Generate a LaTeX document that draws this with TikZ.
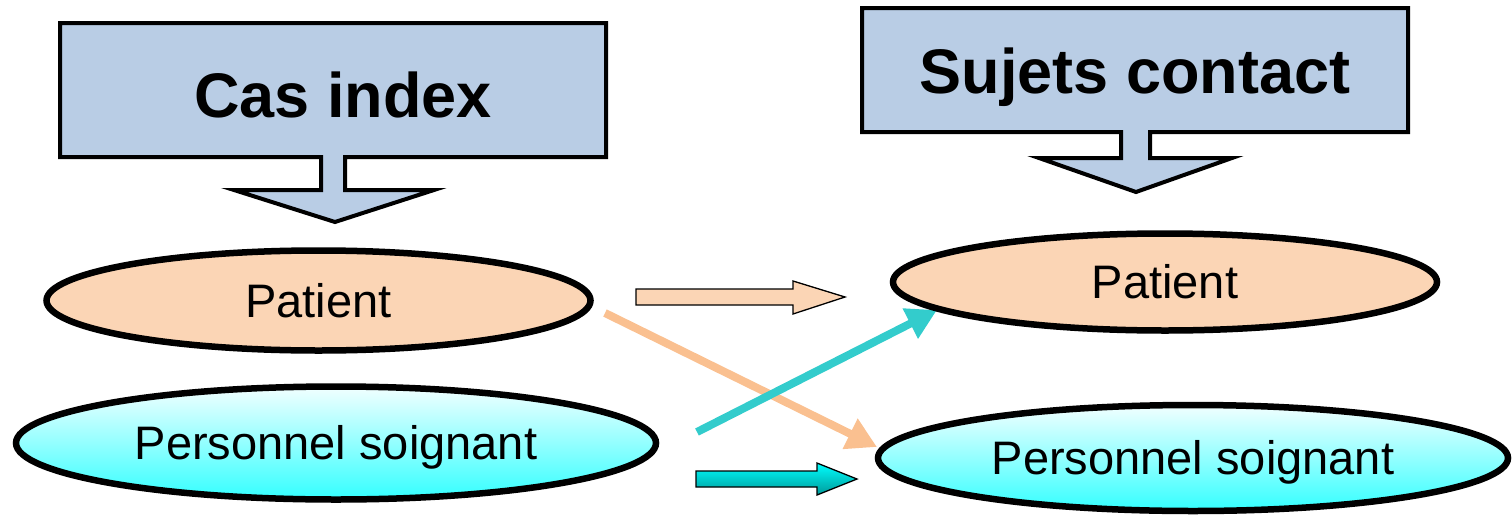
\documentclass[tikz,border=0pt]{standalone}
\usepackage{fontspec}
\setmainfont{Liberation Sans}
\usetikzlibrary{shapes.geometric,arrows.meta}
\definecolor{boxblue}{HTML}{B9CDE5}
\definecolor{peach}{HTML}{FBD5B5}
\definecolor{peachline}{HTML}{FAC090}
\definecolor{tealline}{HTML}{33CCCC}
\definecolor{cyanlow}{HTML}{33FFFF}
\definecolor{cyanhigh}{HTML}{F2FFFF}
\definecolor{tealtop}{HTML}{00FFFF}
\definecolor{tealbot}{HTML}{009999}
\tikzset{
  callout/.style={draw=black,fill=boxblue,line width=4pt,line join=miter},
  titletext/.style={font=\fontsize{63}{70}\selectfont\bfseries,inner sep=0pt},
  oval/.style={ellipse,draw=black,line width=6.5pt,inner sep=0pt,
     font=\fontsize{47}{54}\selectfont,text height=33.6pt,text depth=0pt},
  patientoval/.style={oval,fill=peach},
  staffoval/.style={oval,top color=cyanhigh,bottom color=cyanlow},
  blockpeach/.style={draw=black,line width=1.3pt,fill=peach,line join=miter},
  blockteal/.style={draw=black,line width=1.3pt,top color=tealtop,bottom color=tealbot,line join=miter},
  linkpeach/.style={draw=peachline,line width=8pt,-{Triangle[length=30pt,width=32pt]}},
  linkteal/.style={draw=tealline,line width=8pt,-{Triangle[length=30pt,width=32pt]}}
}
\begin{document}
\begin{tikzpicture}[x=1pt,y=-1pt]
\useasboundingbox (0,0) rectangle (1512,514);
% callouts
\draw[callout] (60,23) -- (606,23) -- (606,157) -- (345,157) -- (345,190) -- (434,190)
  -- (335,222) -- (234,190) -- (321,190) -- (321,157) -- (60,157) -- cycle;
\node[titletext,text height=45pt,text depth=0pt] (casindex) at (343,95) {Cas index};
\draw[callout] (862,8) -- (1408,8) -- (1408,132) -- (1150,132) -- (1150,158) -- (1232,158)
  -- (1136,192) -- (1039,158) -- (1121,158) -- (1121,132) -- (862,132) -- cycle;
\node[titletext,text height=45pt,text depth=0pt] (sujets) at (1135,71) {Sujets contact};
% link coordinates
\coordinate (pl1) at (605,313);
\coordinate (pl2) at (877,447);
\coordinate (tl1) at (697,432);
\coordinate (tl2) at (937,310);
\draw[linkpeach] (pl1) -- (pl2);
\draw[linkteal] (tl1) -- (tl2);
% ovals
\node[patientoval,minimum width=544pt,minimum height=100pt] (pA) at (318.5,300.5) {Patient};
\node[staffoval,minimum width=640pt,minimum height=113pt] (sA) at (336,443) {Personnel soignant};
\node[patientoval,minimum width=544pt,minimum height=97pt] (pB) at (1165,282) {Patient};
\node[staffoval,minimum width=630pt,minimum height=106pt] (sB) at (1193,458) {Personnel soignant};
% block arrows
\draw[blockpeach] (636,289) -- (793,289) -- (793,281) -- (845,297) -- (793,314) -- (793,305) -- (636,305) -- cycle;
\draw[blockteal] (696,471) -- (817,471) -- (817,463) -- (857,479) -- (817,495) -- (817,487) -- (696,487) -- cycle;
\end{tikzpicture}
\end{document}
